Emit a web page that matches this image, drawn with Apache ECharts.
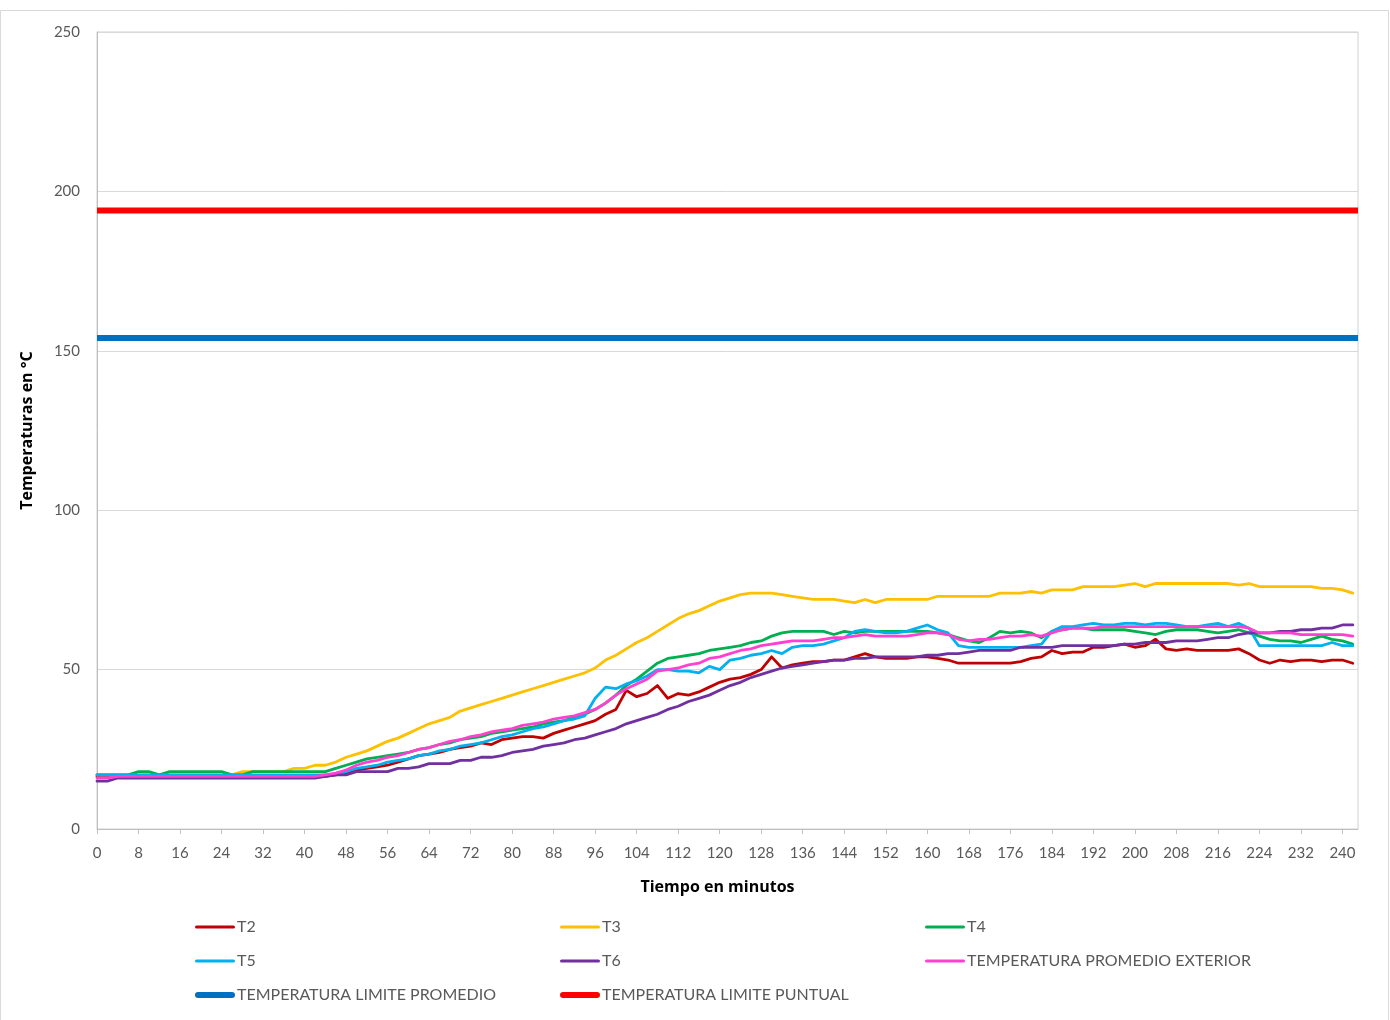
<!DOCTYPE html>
<html>
<head>
<meta charset="utf-8">
<title>Temperaturas</title>
<script src="https://cdn.jsdelivr.net/npm/echarts@6/dist/echarts.min.js"></script>
<style>
  html, body { margin: 0; padding: 0; background: #ffffff; }
  #chart { width: 1390px; height: 1020px; }
</style>
</head>
<body>
<div id="chart"></div>
<script>
// Readings every 2 minutes, from minute 0 to minute 242
const T2 = [
  16.5,16.5,16.5,16.5,16.5,16.5,16.5,16.5,16.5,16.5,
  16.5,16.5,16.5,16.5,16.5,16.5,16.5,16.5,16.5,16.5,
  16.5,16.5,16.5,17,17.5,18.5,19,19.5,20,21,
  22,23,23.5,24,25,25.5,26,27,26.5,28,
  28.5,29,29,28.5,30,31,32,33,34,36,
  37.5,43.5,41.5,42.5,45,41,42.5,42,43,44.5,
  46,47,47.5,48.5,50,54,50.5,51.5,52,52.5,
  52.5,53,53,54,55,54,53.5,53.5,53.5,54,
  54,53.5,53,52,52,52,52,52,52,52.5,
  53.5,54,56,55,55.5,55.5,57,57,57.5,58,
  57,57.5,59.5,56.5,56,56.5,56,56,56,56,
  56.5,55,53,52,53,52.5,53,53,52.5,53,
  53,52
];
const T3 = [
  17,17,17,17,17,17,17,17,17,17,
  17,17,17,17,18,18,18,18,18,19,
  19,20,20,21,22.5,23.5,24.5,26,27.5,28.5,
  30,31.5,33,34,35,37,38,39,40,41,
  42,43,44,45,46,47,48,49,50.5,53,
  54.5,56.5,58.5,60,62,64,66,67.5,68.5,70,
  71.5,72.5,73.5,74,74,74,73.5,73,72.5,72,
  72,72,71.5,71,72,71,72,72,72,72,
  72,73,73,73,73,73,73,74,74,74,
  74.5,74,75,75,75,76,76,76,76,76.5,
  77,76,77,77,77,77,77,77,77,77,
  76.5,77,76,76,76,76,76,76,75.5,75.5,
  75,74
];
const T4 = [
  17,17,17,17,18,18,17,18,18,18,
  18,18,18,17,17,18,18,18,18,18,
  18,18,18,19,20,21,22,22.5,23,23.5,
  24,25,25.5,26.5,27,28,28.5,29,30,30.5,
  31,31.5,32,33,33.5,34,35,36,37.5,39.5,
  42,45,47,49.5,52,53.5,54,54.5,55,56,
  56.5,57,57.5,58.5,59,60.5,61.5,62,62,62,
  62,61,62,61.5,62,62,62,62,62,62,
  62,61.5,61,60,59,58.5,60,62,61.5,62,
  61.5,60,62,62.5,63,63,62.5,62.5,62.5,62.5,
  62,61.5,61,62,62.5,62.5,62.5,62,61.5,62,
  62.5,61.5,60.5,59.5,59,59,58.5,59.5,60.5,59.5,
  59,58
];
const T5 = [
  17,17,17,17,17,17,17,17,17,17,
  17,17,17,17,17,17,17,17,17,17,
  17,17,17,17,18,19,19.5,20,21,21.5,
  22,23,23.5,24.5,25,26,26.5,27,28,29,
  29.5,30.5,31.5,32,33,34,34.5,35.5,41,44.5,
  44,45.5,46.5,48,50,50,49.5,49.5,49,51,
  50,53,53.5,54.5,55,56,55,57,57.5,57.5,
  58,59,60,62,62.5,62,61.5,61.5,62,63,
  64,62.5,61.5,57.5,57,57,57,57,57,57,
  57.5,58,62,63.5,63.5,64,64.5,64,64,64.5,
  64.5,64,64.5,64.5,64,63.5,63.5,64,64.5,63.5,
  64.5,63,57.5,57.5,57.5,57.5,57.5,57.5,57.5,58.5,
  57.5,57.5
];
const T6 = [
  15,15,16,16,16,16,16,16,16,16,
  16,16,16,16,16,16,16,16,16,16,
  16,16,16.5,17,17,18,18,18,18,19,
  19,19.5,20.5,20.5,20.5,21.5,21.5,22.5,22.5,23,
  24,24.5,25,26,26.5,27,28,28.5,29.5,30.5,
  31.5,33,34,35,36,37.5,38.5,40,41,42,
  43.5,45,46,47.5,48.5,49.5,50.5,51,51.5,52,
  52.5,53,53,53.5,53.5,54,54,54,54,54,
  54.5,54.5,55,55,55.5,56,56,56,56,57,
  57,57,57,57.5,57.5,57.5,57.5,57.5,57.5,58,
  58,58.5,58.5,58.5,59,59,59,59.5,60,60,
  61,61.5,61.5,61.5,62,62,62.5,62.5,63,63,
  64,64
];
const promedioExterior = [
  16,16,16.5,16.5,16.5,16.5,16.5,16.5,16.5,16.5,
  16.5,16.5,16.5,16.5,16.5,16.5,16.5,16.5,16.5,16.5,
  16.5,16.5,17,17.5,18.5,20,21,21.5,22.5,23,
  24,25,25.5,26.5,27.5,28,29,29.5,30.5,31,
  31.5,32.5,33,33.5,34.5,35,35.5,36.5,37.5,39.5,
  42,44,45.5,47,49.5,50,50.5,51.5,52,53.5,
  54,55,56,56.5,57.5,58,58.5,59,59,59,
  59.5,60,60,60.5,61,60.5,60.5,60.5,60.5,61,
  61.5,61.5,61,59.5,59,59.5,59.5,60,60.5,60.5,
  61,60.5,61.5,62.5,63,63,63,63.5,63.5,63.5,
  63.5,63.5,63.5,63.5,63.5,63.5,63.5,63.5,63.5,63.5,
  63.5,63,61.5,61.5,61.5,61.5,61,61,61,61,
  61,60.5
];
// Limits (°C)
const limitePromedio = 154;
const limitePuntual = 194;

// Time grid in minutes, one entry per reading
const minutos = T2.map((_, i) => i * 2);
const tiempoMax = 243;

const seriesInfo = [
  { name: 'T2', values: T2, color: '#c00000' },
  { name: 'T3', values: T3, color: '#ffc000' },
  { name: 'T4', values: T4, color: '#00b050' },
  { name: 'T5', values: T5, color: '#00b0f0' },
  { name: 'T6', values: T6, color: '#7030a0' },
  { name: 'TEMPERATURA PROMEDIO EXTERIOR', values: promedioExterior, color: '#ff40d0' }
];
const limits = [
  { name: 'TEMPERATURA LIMITE PROMEDIO', value: limitePromedio, color: '#0070c0' },
  { name: 'TEMPERATURA LIMITE PUNTUAL', value: limitePuntual, color: '#ff0000' }
];

const FONT = 'Lato, "Open Sans", sans-serif';
const TITLE_FONT = '"Open Sans", Lato, sans-serif';
const thinIcon = 'path://M1.5,0h37a1.5,1.5 0 0 1 0,3h-37a1.5,1.5 0 0 1 0,-3z';
const thickIcon = 'path://M3,0h34a3,3 0 0 1 0,6h-34a3,3 0 0 1 0,-6z';

const series = seriesInfo.map(s => ({
  name: s.name,
  type: 'line',
  data: s.values.map((v, i) => [minutos[i], v]),
  showSymbol: false,
  symbol: 'none',
  lineStyle: { color: s.color, width: 2.8, cap: 'round', join: 'round' },
  itemStyle: { color: s.color },
  animation: false
})).concat(limits.map(l => ({
  name: l.name,
  type: 'line',
  data: [[0, l.value], [tiempoMax, l.value]],
  showSymbol: false,
  symbol: 'none',
  lineStyle: { color: l.color, width: 6 },
  itemStyle: { color: l.color },
  animation: false
})));

function legendCol(left, names) {
  return {
    left: left,
    top: 919,
    padding: 0,
    orient: 'vertical',
    itemGap: 18,
    itemWidth: 40,
    itemHeight: 14,
    symbolKeepAspect: true,
    textStyle: { color: '#595959', fontSize: 16, fontFamily: FONT, padding: [0, 0, 0, -3] },
    data: names.map(n => ({
      name: n,
      icon: n.indexOf('LIMITE') >= 0 ? thickIcon : thinIcon,
      itemStyle: { borderWidth: 0 }
    })),
    selectedMode: false
  };
}

const chart = echarts.init(document.getElementById('chart'), null, { renderer: 'canvas' });
chart.setOption({
  backgroundColor: '#ffffff',
  animation: false,
  graphic: [{
    type: 'rect',
    shape: { x: 0.5, y: 10.5, width: 1388, height: 1030 },
    style: { fill: 'none', stroke: '#d9d9d9', lineWidth: 1 },
    silent: true,
    z: -10
  }],
  grid: {
    left: 97, right: 32, top: 32, bottom: 191,
    show: true, borderColor: '#d0d0d0', borderWidth: 1, backgroundColor: 'transparent'
  },
  legend: [
    legendCol(195, ['T2', 'T5', 'TEMPERATURA LIMITE PROMEDIO']),
    legendCol(560, ['T3', 'T6', 'TEMPERATURA LIMITE PUNTUAL']),
    legendCol(925, ['T4', 'TEMPERATURA PROMEDIO EXTERIOR'])
  ],
  xAxis: {
    type: 'value',
    min: 0,
    max: tiempoMax,
    interval: 8,
    name: 'Tiempo en minutos',
    nameLocation: 'middle',
    nameGap: 50,
    nameTextStyle: { color: '#000000', fontWeight: 'bold', fontSize: 16, fontFamily: TITLE_FONT, padding: [0, 20, 0, 0] },
    axisLine: { show: true, onZero: false, lineStyle: { color: '#bfbfbf', width: 1 } },
    axisTick: { show: true, length: 5, lineStyle: { color: '#bfbfbf' } },
    axisLabel: { color: '#595959', fontSize: 15, fontFamily: FONT, margin: 17, showMaxLabel: false },
    splitLine: { show: false }
  },
  yAxis: {
    type: 'value',
    min: 0,
    max: 250,
    interval: 50,
    name: 'Temperaturas en °C',
    nameLocation: 'middle',
    nameGap: 62,
    nameRotate: 90,
    nameTextStyle: { color: '#000000', fontWeight: 'bold', fontSize: 16, fontFamily: TITLE_FONT },
    axisLine: { show: true, lineStyle: { color: '#bfbfbf', width: 1 } },
    axisTick: { show: false },
    axisLabel: { color: '#595959', fontSize: 15, fontFamily: FONT, margin: 17 },
    splitLine: { show: true, lineStyle: { color: '#d9d9d9', width: 1 } }
  },
  series: series
});
</script>
</body>
</html>
